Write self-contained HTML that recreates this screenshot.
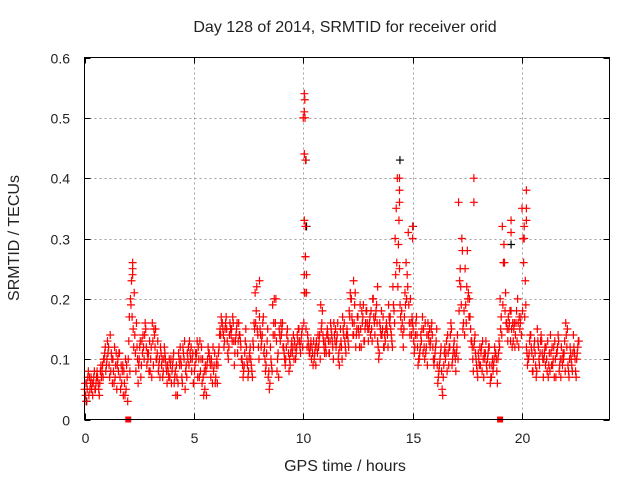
<!DOCTYPE html>
<html><head><meta charset="utf-8">
<style>
html,body{margin:0;padding:0;background:#fff;}
svg{display:block;font-family:"Liberation Sans",sans-serif;}
</style></head>
<body>
<svg id="chart" width="640" height="480" viewBox="0 0 640 480">
<rect width="640" height="480" fill="#fff"/>
<text x="345" y="32" font-size="16" text-anchor="middle" fill="#222">Day 128 of 2014, SRMTID for receiver orid</text>
<text x="345" y="471" font-size="16" text-anchor="middle" fill="#222">GPS time / hours</text>
<text transform="translate(19,238) rotate(-90)" font-size="16" text-anchor="middle" fill="#222">SRMTID / TECUs</text>
<g id="grid"></g>
<g id="ticks"></g>
<g id="marks"></g>
<rect x="84.5" y="57.5" width="525" height="362" fill="none" stroke="#000" stroke-width="1"/>
</svg>
<script>
const xTicks = [0, 5, 10, 15, 20];
const yTicks = [0, 0.1, 0.2, 0.3, 0.4, 0.5, 0.6];
const yTickLabels = ["0", "0.1", "0.2", "0.3", "0.4", "0.5", "0.6"];
const seriesA = [
0.05,0.06,0.04,0.07,0.06,0.05,0.07,0.06,0.08,0.10,
0.09,0.12,0.08,0.10,0.07,0.09,0.11,0.06,0.08,0.05,
0.10,0.20,0.24,0.14,0.12,0.10,0.09,0.12,0.15,0.10,
0.08,0.16,0.14,0.10,0.09,0.11,0.08,0.10,0.09,0.07,
0.08,0.06,0.09,0.11,0.10,0.12,0.05,0.11,0.13,0.08,
0.06,0.10,0.12,0.08,0.10,0.05,0.09,0.11,0.10,0.08,
0.07,0.09,0.15,0.16,0.13,0.15,0.12,0.14,0.16,0.13,
0.11,0.14,0.10,0.09,0.12,0.08,0.10,0.13,0.21,0.15,
0.17,0.13,0.11,0.09,0.07,0.12,0.19,0.14,0.08,0.15,
0.14,0.12,0.10,0.13,0.09,0.11,0.13,0.12,0.15,0.13,
0.50,0.27,0.14,0.11,0.12,0.10,0.13,0.12,0.19,0.14,
0.13,0.15,0.11,0.14,0.16,0.12,0.10,0.15,0.17,0.13,
0.15,0.18,0.20,0.14,0.12,0.17,0.19,0.16,0.13,0.18,
0.15,0.18,0.20,0.17,0.13,0.16,0.14,0.12,0.16,0.19,
0.15,0.22,0.30,0.40,0.25,0.18,0.15,0.26,0.31,0.20,
0.16,0.12,0.14,0.10,0.13,0.15,0.11,0.16,0.12,0.14,
0.10,0.15,0.08,0.12,0.07,0.10,0.14,0.12,0.09,0.13,
0.11,0.36,0.22,0.15,0.25,0.28,0.20,0.13,0.12,0.10,
0.11,0.09,0.13,0.10,0.08,0.12,0.07,0.09,0.11,0.10,
0.20,0.32,0.26,0.16,0.15,0.18,0.13,0.14,0.20,0.15,
0.35,0.30,0.12,0.10,0.14,0.08,0.11,0.15,0.09,0.13,
0.10,0.12,0.07,0.14,0.09,0.13,0.11,0.08,0.12,0.10,
0.16,0.09,0.12,0.08,0.11,0.10,0.13];
const seriesB = [
0.04,0.07,0.05,0.06,0.08,0.07,0.05,0.09,0.07,0.12,
0.13,0.07,0.10,0.06,0.11,0.08,0.05,0.09,0.04,0.07,
0.17,0.23,0.12,0.08,0.06,0.13,0.11,0.14,0.09,0.08,
0.12,0.09,0.15,0.13,0.07,0.10,0.12,0.08,0.07,0.10,
0.10,0.08,0.04,0.09,0.07,0.10,0.09,0.12,0.10,0.11,
0.09,0.13,0.07,0.12,0.04,0.08,0.12,0.09,0.06,0.11,
0.10,0.12,0.17,0.14,0.16,0.11,0.16,0.13,0.09,0.15,
0.16,0.12,0.07,0.13,0.09,0.11,0.08,0.16,0.18,0.12,
0.14,0.16,0.10,0.13,0.05,0.09,0.16,0.20,0.11,0.13,
0.16,0.10,0.14,0.08,0.12,0.14,0.10,0.13,0.12,0.15,
0.24,0.21,0.12,0.13,0.09,0.12,0.11,0.14,0.16,0.12,
0.11,0.13,0.16,0.12,0.13,0.14,0.09,0.12,0.14,0.11,
0.13,0.21,0.16,0.19,0.15,0.14,0.12,0.19,0.16,0.15,
0.17,0.13,0.16,0.19,0.10,0.14,0.17,0.13,0.14,0.16,
0.13,0.18,0.35,0.29,0.17,0.14,0.21,0.24,0.16,0.14,
0.13,0.16,0.09,0.12,0.17,0.10,0.14,0.13,0.15,0.10,
0.12,0.06,0.10,0.05,0.11,0.13,0.09,0.16,0.11,0.10,
0.14,0.23,0.30,0.18,0.16,0.21,0.15,0.10,0.14,0.08,
0.09,0.12,0.07,0.13,0.11,0.06,0.10,0.12,0.08,0.13,
0.17,0.26,0.21,0.13,0.18,0.12,0.16,0.18,0.12,0.17,
0.30,0.23,0.09,0.13,0.11,0.12,0.07,0.12,0.13,0.10,
0.12,0.08,0.11,0.09,0.12,0.07,0.14,0.10,0.09,0.13,
0.12,0.07,0.10,0.14,0.08,0.12];
const seriesC = [
0.06,0.05,0.07,0.05,0.07,0.06,0.06,0.08,0.09,0.11,
0.10,0.09,0.11,0.08,0.09,0.10,0.07,0.08,0.06,0.09,
0.13,0.19,0.15,0.11,0.10,0.12,0.13,0.10,0.12,0.11,
0.10,0.13,0.12,0.11,0.10,0.09,0.10,0.09,0.08,0.09,
0.09,0.07,0.07,0.10,0.09,0.11,0.08,0.10,0.11,0.10,
0.08,0.11,0.10,0.10,0.07,0.09,0.10,0.10,0.09,0.09,
0.09,0.11,0.14,0.15,0.15,0.13,0.14,0.15,0.13,0.14,
0.13,0.13,0.09,0.11,0.10,0.10,0.09,0.12,0.16,0.14,
0.15,0.14,0.12,0.11,0.08,0.10,0.14,0.16,0.10,0.14,
0.15,0.11,0.12,0.11,0.11,0.12,0.12,0.14,0.13,0.14,
0.16,0.15,0.13,0.12,0.11,0.11,0.12,0.13,0.15,0.13,
0.12,0.14,0.13,0.13,0.14,0.13,0.11,0.13,0.15,0.12,
0.14,0.17,0.17,0.16,0.14,0.15,0.15,0.17,0.15,0.16,
0.16,0.15,0.17,0.18,0.12,0.15,0.15,0.14,0.15,0.17,
0.14,0.19,0.24,0.22,0.19,0.16,0.17,0.20,0.19,0.16,
0.15,0.14,0.12,0.11,0.15,0.12,0.12,0.14,0.13,0.12,
0.11,0.09,0.09,0.08,0.09,0.11,0.11,0.14,0.10,0.11,
0.12,0.18,0.19,0.16,0.19,0.20,0.17,0.12,0.13,0.09,
0.10,0.11,0.10,0.11,0.10,0.09,0.09,0.10,0.10,0.11,
0.15,0.19,0.18,0.15,0.16,0.15,0.15,0.16,0.16,0.16,
0.18,0.17,0.11,0.11,0.12,0.10,0.09,0.13,0.11,0.11,
0.11,0.10,0.09,0.11,0.10,0.10,0.12,0.09,0.10,0.11,
0.14,0.08,0.11,0.11,0.10,0.11];
const seriesD = [
0.03,0.08,0.06,0.04,0.05,0.08,0.04,0.07,0.10,0.08,
0.11,0.14,0.06,0.12,0.05,0.11,0.09,0.04,0.10,0.03,
0.08,0.17,0.21,0.16,0.09,0.07,0.14,0.16,0.11,0.13,
0.07,0.15,0.10,0.08,0.12,0.07,0.11,0.06,0.10,0.06,
0.11,0.04,0.06,0.12,0.06,0.13,0.07,0.09,0.12,0.06,
0.11,0.07,0.13,0.06,0.08,0.04,0.11,0.07,0.12,0.06,
0.06,0.14,0.16,0.12,0.17,0.10,0.15,0.17,0.11,0.16,
0.14,0.10,0.08,0.15,0.07,0.12,0.07,0.15,0.22,0.10,
0.12,0.17,0.08,0.15,0.06,0.08,0.20,0.13,0.07,0.16,
0.12,0.09,0.15,0.10,0.13,0.10,0.11,0.15,0.11,0.12,
0.21,0.12,0.11,0.10,0.13,0.09,0.14,0.10,0.18,0.11,
0.14,0.11,0.15,0.10,0.15,0.16,0.12,0.10,0.16,0.14,
0.12,0.20,0.14,0.21,0.17,0.12,0.18,0.13,0.18,0.13,
0.14,0.20,0.14,0.16,0.11,0.18,0.12,0.15,0.12,0.17,
0.12,0.16,0.26,0.33,0.15,0.12,0.19,0.22,0.14,0.17,
0.11,0.17,0.10,0.14,0.11,0.16,0.09,0.15,0.16,0.09,
0.13,0.07,0.11,0.04,0.12,0.08,0.12,0.15,0.12,0.08,
0.10,0.25,0.28,0.14,0.22,0.17,0.13,0.08,0.11,0.07,
0.12,0.08,0.11,0.09,0.12,0.07,0.08,0.11,0.06,0.12,
0.14,0.29,0.16,0.17,0.13,0.16,0.12,0.13,0.17,0.14,
0.26,0.19,0.10,0.14,0.08,0.13,0.08,0.10,0.14,0.07,
0.09,0.13,0.08,0.12,0.07,0.11,0.13,0.07,0.11,0.08,
0.15,0.10,0.09,0.12,0.07,0.13];
const spikeTimes = [10.05,10.07,10.05,10.08,10.05,10.1,10.05,10.1,10.1,10.15,2.2,2.2,14.4,14.4,14.4,15,15,17.8,17.8,19.5,19.5,20.2,20.2,20.2,20.1,8,12.3,13.4,10.05];
const spikeValues = [0.54,0.53,0.51,0.50,0.44,0.43,0.33,0.32,0.27,0.24,0.26,0.25,0.40,0.38,0.36,0.32,0.30,0.40,0.36,0.33,0.31,0.38,0.35,0.33,0.32,0.23,0.23,0.22,0.21];
const blackTimes = [10.12,10.15,14.42,15.02,19.5,0.1];
const blackValues = [0.43,0.32,0.43,0.32,0.29,0.03];
const flagTimes = [2, 19];
const flagValues = [0, 0];

const X0=84.5, X1=609.5, Y0=419.5, Y1=57.5, XMAX=24, YMAX=0.6;
function xs(t){return X0+(X1-X0)*t/XMAX;}
function ys(v){return Y0-(Y0-Y1)*v/YMAX;}
const NS="http://www.w3.org/2000/svg";
function mk(tag,attrs,parent){const e=document.createElementNS(NS,tag);for(const k in attrs)e.setAttribute(k,attrs[k]);parent.appendChild(e);return e;}
const grid=document.getElementById('grid'), ticks=document.getElementById('ticks'), marks=document.getElementById('marks');

xTicks.forEach(function(t){
  const x=Math.round(xs(t))+0.5;
  if(t>0){
    const g=mk('line',{x1:x,x2:x,y1:Y1,y2:Y0,stroke:'#a0a0a0','stroke-dasharray':'2,3'},grid);
    
    
  }
  const a=mk('line',{x1:x,x2:x,y1:Y0,y2:Y0-6,stroke:'#000'},ticks);
  
  
  const b=mk('line',{x1:x,x2:x,y1:Y1,y2:Y1+6,stroke:'#000'},ticks);
  
  
  const l=mk('text',{x:x,y:443,'font-size':14,'text-anchor':'middle',fill:'#222'},ticks);
  l.textContent=String(t);
  
  
});
yTicks.forEach(function(v,i){
  const y=Math.round(ys(v))+0.5;
  if(v>0 && v<YMAX){
    const g=mk('line',{x1:X0,x2:X1,y1:y,y2:y,stroke:'#a0a0a0','stroke-dasharray':'2,3'},grid);
    
    
  }
  const a=mk('line',{x1:X0,x2:X0+6,y1:y,y2:y,stroke:'#000'},ticks);
  
  
  const b=mk('line',{x1:X1,x2:X1-6,y1:y,y2:y,stroke:'#000'},ticks);
  
  
  const l=mk('text',{x:70,y:y+5,'font-size':14,'text-anchor':'end',fill:'#222'},ticks);
  l.textContent=yTickLabels[i];
  
  
});
function plus(t,v,color,name){
  const x=xs(t), y=ys(v);
  const p=mk('path',{d:'M'+(x-4)+' '+y+'h8M'+x+' '+(y-4)+'v8',stroke:color,'stroke-width':1.2,fill:'none'},marks);
  
  
}
blackTimes.forEach(function(t,i){plus(t,blackValues[i],'#000','black-point');});
seriesA.forEach(function(v,i){plus(i*0.1,v,'#f00','red-point');});
seriesB.forEach(function(v,i){plus(i*0.1+0.05,v,'#f00','red-point');});
seriesC.forEach(function(v,i){plus(i*0.1+0.025,v,'#f00','red-point');});
seriesD.forEach(function(v,i){plus(i*0.1+0.075,v,'#f00','red-point');});
spikeTimes.forEach(function(t,i){plus(t,spikeValues[i],'#f00','spike-point');});
flagTimes.forEach(function(t,i){
  const r=mk('rect',{x:xs(t)-3,y:ys(flagValues[i])-3,width:6,height:6,fill:'#f00'},marks);
  
  
});
</script>
</body></html>
